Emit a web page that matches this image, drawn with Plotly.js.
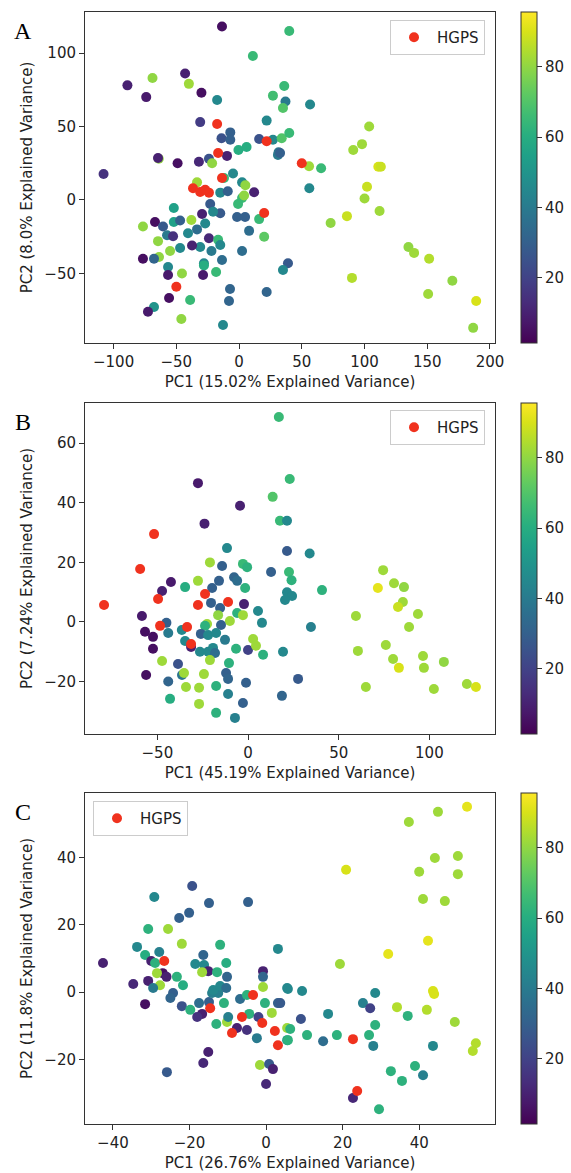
<!DOCTYPE html>
<html>
<head>
<meta charset="utf-8">
<script src="https://cdn.plot.ly/plotly-3.0.1.min.js"></script>
<style>html,body{margin:0;padding:0;background:#fff;}#chart{width:571px;height:1173px;}</style>
</head>
<body>
<div id="chart"></div>
<script>
// ---------- Panel A ----------
const aX = [-13.6,11,40,-89,-69,-43,-74,-40,-30,-17.5,36,27,37,35,-31,22,-7,-14,-7,16,27,34,40,-0.5,6,31,31.5,-64,-64.6,-49,-32,-24,-21.5,-9.6,-108,-4.8,-12,-33.5,2.4,5,-15,-9,12,56.6,103.7,91,98,32.7,55.8,65.4,111,113,56,102,100,112,86,73,135,139.5,151.5,90,170,150.7,189,186.6,39,35,16,20,8,-1.6,4.8,-0.8,2.4,4,-15,-23,-20.7,-29.5,-52,-76.6,-67,-60.6,-52,-47,-38,-33.5,-40.7,-27,-57.4,-52.6,-24,-16.7,-15,-31,-37.5,-47,-22,-13.6,2.4,-55,-63.8,-76.6,-67.8,-56.6,-64.6,-28,-28,-56.6,-45.5,-28.7,-18.3,-55.8,-39,-7.2,-8,-67.8,-72.6,-46,-12.8,22];
const aY = [118,98,115,78,83,86,70,79,73,68,77.5,71,67,62.6,53,54,46,42,41,41.5,41,42,45.6,34,36,30.6,32.5,28,28.6,25,26,28,25,30,17.7,18,15,12,12,10,5,6,5.3,65,50,34,38,32,23,21.6,22.6,22.6,8,9,1,-7.5,-11,-15.7,-32,-36,-40,-53,-55,-64,-68.7,-87,-43,-47.6,-13,-25,-21,-11.6,-11.6,-2.7,1.4,3,-9,-2.7,-8,-9.5,-5.4,-18,-15,-18,-15,-14,-13.6,-20,-22.6,-16,-24,-24.7,-26,-27,-30.6,-32,-31,-32.7,-34.7,-40.8,-34.7,-34.7,-38.8,-40,-40,-45.6,-28,-43,-44.5,-51,-50,-51,-49,-66.7,-68,-60.6,-68.7,-72.8,-76,-81,-85,-62.6];
const aAge = [5,65,65,10,80,10,8,82,5,45,65,67,40,70,18,45,30,25,30,25,45,70,65,60,60,40,38,80,10,5,12,25,80,10,15,45,65,82,45,80,45,30,10,45,82,82,82,30,82,65,90,88,45,88,82,82,88,80,80,82,85,85,80,82,90,80,28,45,65,72,35,30,30,65,65,80,28,28,45,10,55,80,5,28,55,30,82,35,45,45,40,15,12,65,45,45,10,45,40,35,35,80,80,5,32,45,80,45,60,8,80,8,65,5,65,32,32,50,8,80,45,32];
const aHX = [-17.5,22,-16.7,-13.6,-36.7,-31,-24,-27,20,50,-50];
const aHY = [51.7,40,32,15,8,5.5,5,7,-8.8,25,-59];

// ---------- Panel B ----------
const bX = [17,-27.6,-4.4,-24,13.6,23,17.6,21.5,-11.6,21.5,-21,-14.3,-2.8,-0.5,12.7,22.6,-27.6,-42.5,-16,-7.7,-6,-34.7,-47.4,-19.8,-1.6,34,24,74.5,80.5,86,71.6,40.8,21.5,24.3,20.4,85.4,82.7,93.7,59.5,88.8,34.7,60.6,76,80,83.2,96.5,97,108,27.6,65,102.5,120.7,125.7,-20.4,-2.2,-15.4,-6,-16.5,-10,-2.8,5.5,7.7,-14.9,-22.6,-23.7,-45,-44,-36.5,-58.5,-56.8,-52.4,-52.4,-34.7,-31.4,-26,-22,-17.6,-12.7,-26.5,-22,-19.3,-18.2,-21,-10.5,-6.6,0,2.8,4.4,8.3,19.3,-47.4,-38.6,-36.4,-35.3,-24.3,-56.2,-44,-12.1,-11,-1.1,-34.2,-27,-17.6,-11,-43,-27,-2.8,-17.6,-7.2,18.7];
const bY = [68.8,46.6,39,33,42,48,34,34,24.8,23.8,20,18.8,19.5,18.4,16.8,16.8,13.8,13.4,13.8,15,13.8,11.7,10.4,11.4,11.4,23,14,17.4,13,11.7,11.4,10.7,10,8.7,7.4,6.7,5,2.7,2,-1.7,-1.7,-9.7,-7.7,-12.4,-15.4,-11.4,-15.4,-13.4,-19.1,-21.8,-22.5,-20.8,-21.8,6.4,6,4.7,3,2.3,0.3,2.3,3.7,-0.3,-1,-0.7,-1.3,-0.3,-3.7,-2.7,2,-3.3,-5,-9,-6.4,-8.4,-4,-4.4,-3.7,-6,-10,-10,-8.7,-10.4,-12.8,-13.8,-9,-9.4,-5.7,-8,-11,-10,-13.1,-14.1,-17.8,-17.1,-17.5,-17.8,-20,-17.1,-19.1,-20.4,-21.8,-22.1,-21.5,-24.2,-25.8,-27.5,-27.2,-30.5,-32.2,-24.8];
const bAge = [65,8,10,10,70,65,65,45,45,28,82,30,65,62,30,65,82,8,30,32,35,60,10,30,62,45,62,82,82,80,92,62,45,45,45,82,88,82,82,82,42,82,82,82,90,82,82,80,28,82,82,82,90,30,10,30,62,80,82,82,45,45,30,82,62,30,40,45,8,5,5,5,45,10,30,45,45,40,45,45,45,35,82,62,62,20,82,82,62,45,82,25,38,82,82,5,32,30,32,30,82,82,62,42,60,82,30,62,42,32];
const bHX = [-79.4,-49.6,-51.8,-59.5,-23.7,-27.6,-11,-33.6,-48.5,-31.4];
const bHY = [5.7,7.7,29.5,17.8,9.4,5.7,6.7,-1.7,-1.3,-7.4];

// ---------- Panel C ----------
const cX = [-19.3,-29.2,-14.9,-4.7,-22.7,-20.1,-30.8,-25.6,-22,-12,3.1,-33.7,-31.6,-27.9,-30,-29,-42.6,-16.4,-18.5,-16.2,-10.4,-15.1,-16.7,-12.8,-10.2,-0.8,-0.8,-27,-26,-23.3,-28.5,-21.7,-27.7,-30.8,-34.7,-29.5,-24.3,-25,-31.6,-22,-19.8,-17.5,-14.9,-14.1,-12.5,-13.8,-12,-11,-10.4,-16.7,-18,-13,-10.2,-9.9,-7.6,-5,-6.8,-5,-4.4,-2,-0.3,1.5,-0.8,3.1,5.5,5.5,5.5,-2.4,-15.1,-16.4,-25.9,-1.6,0.8,1.8,0,19.3,5.7,9.4,3.7,28.5,25.3,27.2,34.2,37,42,43.6,43.9,49.3,16.2,9.1,6.3,10.7,5.7,14.9,18.5,26.9,28.5,28,43.6,54.8,54,32.6,38.9,41,35.5,22.7,29.5,37.3,44.9,52.5,44.1,50.1,40,50.1,20.9,41,46.7,42.3,31.9];
const cY = [31.5,28.2,26.4,26.7,22,23.5,18.7,18.7,14.3,14,12.8,13.4,11,11.9,9.2,8.6,8.6,11,8.3,8,8.6,6.2,5.9,5.9,4.5,6.2,4.5,5.6,4.5,4.5,5.6,2,2,3.3,2.4,1.2,-0.3,-1.8,-3.6,-4.2,-5.3,-3.3,-3,-0.3,-0.3,0.6,1.8,-3.3,1.2,-6.5,-7.4,-9.5,-8.9,-7.4,-10.7,-11.3,-2.1,-0.9,-6.5,-7.4,-3.3,-6.2,1.5,-3.3,1.2,-14.3,-10.7,-13.7,-17.8,-21.1,-23.8,-21.7,-21.4,-22.9,-27.3,8.3,0.9,0.3,-3.3,-0.3,-3.3,-4.8,-4.5,-7.1,-5.3,0.3,-0.6,-8.9,-6.5,-8,-11,-12.8,-14.3,-14.6,-12.8,-12.8,-9.8,-16,-16,-15.2,-17.5,-23.5,-22,-24.7,-26.4,-31.5,-34.8,50.5,53.5,55,39.8,40.4,35.7,35,36.3,27.6,27,15.2,11.3];
const cAge = [25,45,30,30,30,30,62,82,82,62,45,45,60,42,10,62,10,32,45,45,60,10,82,62,32,10,32,5,10,62,82,60,82,10,12,40,30,32,5,25,62,35,30,42,42,45,45,62,35,10,15,62,82,42,10,15,35,62,62,20,62,82,82,30,45,50,82,40,10,12,28,82,28,10,12,82,45,45,28,45,42,20,85,62,85,90,90,82,45,25,62,62,62,35,62,62,62,42,45,85,85,62,62,42,62,12,62,82,82,92,82,82,82,82,90,82,82,92,92];
const cHX = [-26.6,-14.6,-8.9,-3.4,-6.3,-1,2.3,3.1,22.7,23.8];
const cHY = [9.2,-4.8,-12.2,-0.9,-7.4,-9.2,-11.6,-15.8,-14,-29.4];

// ---------- Labels ----------
const panelLabels = ['A','B','C'];
const xTitles = ['PC1 (15.02% Explained Variance)','PC1 (45.19% Explained Variance)','PC1 (26.76% Explained Variance)'];
const yTitles = ['PC2 (8.0% Explained Variance)','PC2 (7.24% Explained Variance)','PC2 (11.8% Explained Variance)'];
const groupName = 'HGPS';
const cbTicks = [20,40,60,80];

const W = 571, H = 1173;
const L = 85, R = 495;
const tops = [12, 403, 793], bots = [343, 734, 1124];
const xr = [[-122.8,204],[-89.9,136.2],[-47.3,59.8]];
const yr = [[-97.3,127.9],[-37.6,73.5],[-39.2,59.1]];
const xd = [50,50,20], yd = [50,20,20];
const legPos = [[390,20],[390,410],[93,801]];
const FONT = 'DejaVu Sans, sans-serif';
const RED = '#f0321e';

const panels = [[aX,aY,aAge,aHX,aHY],[bX,bY,bAge,bHX,bHY],[cX,cY,cAge,cHX,cHY]];
const data = [];
const layout = {
  width: W, height: H, margin:{l:0,r:0,t:0,b:0},
  paper_bgcolor:'#fff', plot_bgcolor:'#fff', showlegend:true,
  font:{family:FONT, size:15, color:'#222'},
  annotations: []
};
panels.forEach((p,i)=>{
  const n = i===0 ? '' : String(i+1);
  data.push({type:'scatter', mode:'markers', x:p[0], y:p[1], xaxis:'x'+n, yaxis:'y'+n,
    marker:{size:10, color:p[2], coloraxis:'coloraxis'+n, line:{width:0}}, showlegend:false, hoverinfo:'skip'});
  data.push({type:'scatter', mode:'markers', x:p[3], y:p[4], xaxis:'x'+n, yaxis:'y'+n, name:groupName,
    legend:'legend'+n, marker:{size:10, color:RED, line:{width:0}}, showlegend:true});
  const ax = {showline:true, mirror:true, linecolor:'#333', linewidth:1, ticks:'outside', ticklen:5,
    tickcolor:'#333', showgrid:false, zeroline:false, tickfont:{family:FONT,size:15,color:'#222'}};
  const yT = 1 - tops[i]/H, yB = 1 - bots[i]/H;
  layout['xaxis'+n] = Object.assign({}, ax, {domain:[L/W, R/W], range:xr[i], dtick:xd[i], tick0:0,
    anchor:'y'+n, title:{text:xTitles[i], font:{family:FONT,size:15,color:'#222'}, standoff:6}});
  layout['yaxis'+n] = Object.assign({}, ax, {domain:[yB, yT], range:yr[i], dtick:yd[i], tick0:0,
    anchor:'x'+n, title:{text:yTitles[i], font:{family:FONT,size:15,color:'#222'}, standoff:8}});
  layout['coloraxis'+n] = {colorscale:'Viridis', cmin:1.5, cmax:95.6,
    colorbar:{x:521/W, xanchor:'left', y:yT, yanchor:'top', len:bots[i]-tops[i], lenmode:'pixels',
      thickness:16, xpad:0, ypad:0, outlinewidth:1, outlinecolor:'#333', ticks:'outside', ticklen:5,
      tickcolor:'#333', tickvals:cbTicks, tickfont:{family:FONT,size:15,color:'#222'}}};
  layout['legend'+n] = {x:legPos[i][0]/W, y:1-legPos[i][1]/H, xanchor:'left', yanchor:'top',
    bgcolor:'rgba(255,255,255,0.8)', bordercolor:'#ccc', borderwidth:1, itemwidth:36,
    font:{family:FONT,size:15,color:'#222'}};
  layout.annotations.push({text:panelLabels[i], xref:'paper', yref:'paper', x:23/W, y:1-(tops[i]+19)/H,
    xanchor:'center', yanchor:'middle', showarrow:false, font:{family:'Liberation Serif, serif', size:24, color:'#000'}});
});
Plotly.newPlot('chart', data, layout, {displayModeBar:false, staticPlot:true});
</script>
</body>
</html>
